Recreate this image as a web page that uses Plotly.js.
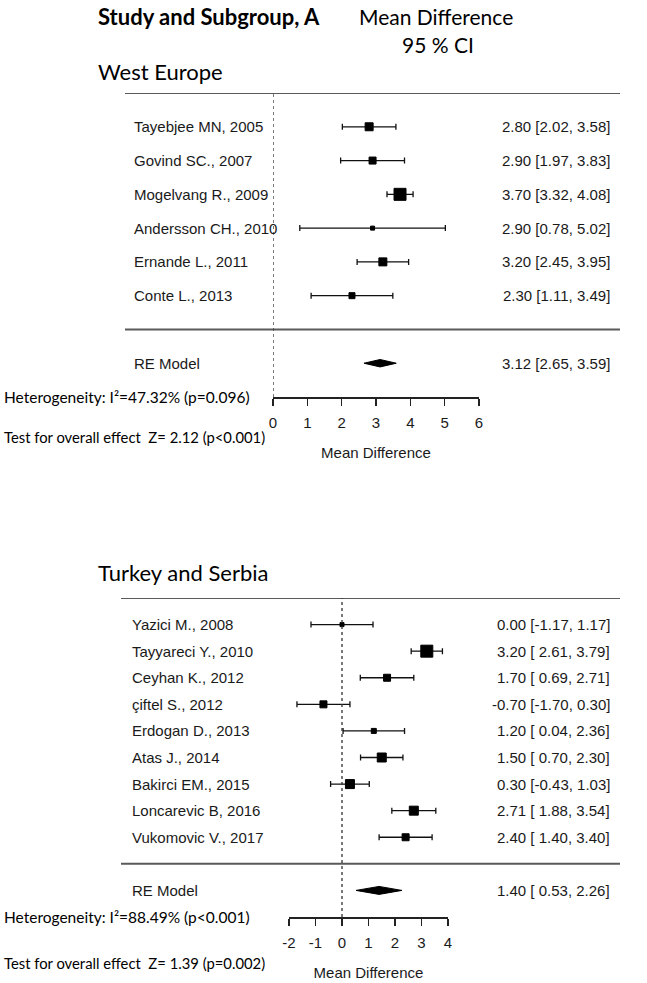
<!DOCTYPE html>
<html>
<head>
<meta charset="utf-8">
<script src="https://cdn.plot.ly/plotly-3.0.1.min.js"></script>
<style>body{margin:0;background:#fff}</style>
</head>
<body>
<div id="forest" style="width:647px;height:983px"></div>
<script>
// West Europe
var studiesWE = ["Tayebjee MN, 2005", "Govind SC., 2007", "Mogelvang R., 2009", "Andersson CH., 2010", "Ernande L., 2011", "Conte L., 2013"];
var meanWE = [2.80, 2.90, 3.70, 2.90, 3.20, 2.30];
var lowWE = [2.02, 1.97, 3.32, 0.78, 2.45, 1.11];
var highWE = [3.58, 3.83, 4.08, 5.02, 3.95, 3.49];
var weightWE = [8, 7, 12, 4, 8, 6];
var reWE = [3.12, 2.65, 3.59];
var hetWE = "Heterogeneity: I\u00b2=47.32% (p=0.096)";
var testWE = "Test for overall effect  Z= 2.12 (p<0.001)";
var ticksWE = [0, 1, 2, 3, 4, 5, 6];

// Turkey and Serbia
var studiesTS = ["Yazici M., 2008", "Tayyareci Y., 2010", "Ceyhan K., 2012", "\u00e7iftel S., 2012", "Erdogan D., 2013", "Atas J., 2014", "Bakirci EM., 2015", "Loncarevic B, 2016", "Vukomovic V., 2017"];
var meanTS = [0.00, 3.20, 1.70, -0.70, 1.20, 1.50, 0.30, 2.71, 2.40];
var lowTS = [-1.17, 2.61, 0.69, -1.70, 0.04, 0.70, -0.43, 1.88, 1.40];
var highTS = [1.17, 3.79, 2.71, 0.30, 2.36, 2.30, 1.03, 3.54, 3.40];
var weightTS = [4, 12, 7, 7, 5, 9, 9, 9, 7];
var reTS = [1.40, 0.53, 2.26];
var hetTS = "Heterogeneity: I\u00b2=88.49% (p<0.001)";
var testTS = "Test for overall effect  Z= 1.39 (p=0.002)";
var ticksTS = [-2, -1, 0, 1, 2, 3, 4];

var W = 647, H = 983;
var labelFont = {family: "Liberation Sans, Arial, sans-serif", size: 15, color: "#1a1a1a"};
var calibri = "Lato, Open Sans, sans-serif";

var traces = [];
var shapes = [];
var annotations = [];

function px2x(p) { return p / W; }
function px2y(p) { return 1 - p / H; }

function note(o) {
  o.showarrow = false;
  o.yanchor = "middle";
  annotations.push(o);
}

function panel(n, studies, mean, low, high, weight, re, het, test, ticks, opt) {
  var xa = "x" + (n === 1 ? "" : n), ya = "y" + (n === 1 ? "" : n);
  var k = studies.length;
  var rows = studies.map(function (s, i) { return k + 3 - i; });
  var pad = low.some(function (v) { return v < 0; });
  function f(v) { return (pad && v >= 0 ? " " : "") + v.toFixed(2); }
  function ci(m, l, h) { return m.toFixed(2) + " [" + f(l) + ", " + h.toFixed(2) + "]"; }

  traces.push({
    type: "scatter", mode: "markers", xaxis: xa, yaxis: ya,
    x: mean, y: rows, cliponaxis: false, hoverinfo: "none",
    marker: {symbol: "square", color: "#000", opacity: 1, size: weight, line: {color: "#000", width: 1}},
    error_x: {type: "data", symmetric: false,
      array: high.map(function (h, i) { return h - mean[i]; }),
      arrayminus: low.map(function (l, i) { return mean[i] - l; }),
      color: "#111", thickness: 1.3, width: 3}
  });

  // summary diamond
  var dh = opt.diamond;
  traces.push({
    type: "scatter", mode: "lines", xaxis: xa, yaxis: ya, fill: "toself",
    x: [re[1], re[0], re[2], re[0], re[1]], y: [2, 2 + dh, 2, 2 - dh, 2],
    fillcolor: "#000", line: {color: "#000", width: 1}, hoverinfo: "none", cliponaxis: false
  });

  studies.forEach(function (s, i) {
    note({xref: "paper", yref: ya, x: px2x(opt.labelX), y: rows[i], text: s, xanchor: "left", font: labelFont});
    note({xref: "paper", yref: ya, x: px2x(612), y: rows[i], text: ci(mean[i], low[i], high[i]),
      xanchor: "right", font: labelFont});
  });
  note({xref: "paper", yref: ya, x: px2x(opt.labelX), y: 2, text: "RE Model", xanchor: "left", font: labelFont});
  note({xref: "paper", yref: ya, x: px2x(612), y: 2, text: ci(re[0], re[1], re[2]), xanchor: "right", font: labelFont});
  note({xref: "paper", yref: ya, x: px2x(2), y: 1, text: het, xanchor: "left",
    font: {family: calibri, size: 15.5, color: "#000"}});
  note({xref: "paper", yref: "paper", x: px2x(2), y: px2y(opt.testY), text: test, xanchor: "left",
    font: {family: calibri, size: 14.8, color: "#000"}});

  [k + 4, 3].forEach(function (yv) {
    shapes.push({type: "line", xref: "paper", yref: ya, x0: px2x(opt.lineX), x1: px2x(620), y0: yv, y1: yv,
      line: {color: "#5a5a5a", width: 2}});
  });
  shapes.push({type: "line", xref: xa, yref: ya + " domain", x0: 0, x1: 0, y0: 0, y1: 1,
    line: {color: "#333", width: 1.3, dash: "dot"}});

  var axis = {
    domain: opt.xdom, range: [ticks[0], ticks[ticks.length - 1]], anchor: ya,
    tickvals: ticks, ticktext: ticks.map(String),
    showgrid: false, zeroline: false, showline: true, linecolor: "#222", linewidth: 1.5,
    ticks: "outside", ticklen: 7, tickwidth: 1.5, tickcolor: "#222",
    ticklabelstandoff: 4, tickfont: labelFont,
    title: {text: "Mean Difference", font: labelFont, standoff: 18}
  };
  var yaxis = {
    domain: opt.ydom, range: [1, k + 4], anchor: xa,
    visible: false, showgrid: false, zeroline: false
  };
  return {xaxis: axis, yaxis: yaxis};
}

var p1 = panel(1, studiesWE, meanWE, lowWE, highWE, weightWE, reWE, hetWE, testWE, ticksWE, {
  xdom: [px2x(273), px2x(479)], ydom: [px2y(397), px2y(93)], diamond: 0.11,
  labelX: 132, lineX: 125, testY: 437
});
var p2 = panel(2, studiesTS, meanTS, lowTS, highTS, weightTS, reTS, hetTS, testTS, ticksTS, {
  xdom: [px2x(289), px2x(448)], ydom: [px2y(917), px2y(598)], diamond: 0.15,
  labelX: 130, lineX: 121, testY: 963
});

note({xref: "paper", yref: "paper", x: px2x(96), y: px2y(17), text: "<b>Study and Subgroup, A</b>",
  xanchor: "left", font: {family: calibri, size: 22, color: "#000"}});
note({xref: "paper", yref: "paper", x: px2x(436), y: px2y(16), text: "Mean Difference",
  xanchor: "center", font: {family: calibri, size: 21, color: "#000"}});
note({xref: "paper", yref: "paper", x: px2x(438), y: px2y(45), text: "95 % CI",
  xanchor: "center", font: {family: calibri, size: 21, color: "#000"}});
note({xref: "paper", yref: "paper", x: px2x(96), y: px2y(71), text: "West Europe",
  xanchor: "left", font: {family: calibri, size: 22, color: "#000"}});
note({xref: "paper", yref: "paper", x: px2x(96), y: px2y(572), text: "Turkey and Serbia",
  xanchor: "left", font: {family: calibri, size: 22, color: "#000"}});

var layout = {
  width: W, height: H,
  margin: {l: 0, r: 0, t: 0, b: 0},
  paper_bgcolor: "#fff", plot_bgcolor: "rgba(0,0,0,0)",
  showlegend: false,
  xaxis: p1.xaxis, yaxis: p1.yaxis,
  xaxis2: p2.xaxis, yaxis2: p2.yaxis,
  shapes: shapes, annotations: annotations
};

Plotly.newPlot("forest", traces, layout, {staticPlot: true});
</script>
</body>
</html>
